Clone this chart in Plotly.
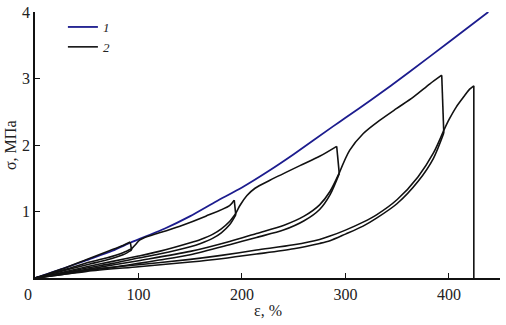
import plotly.graph_objects as go

# ---- Curve 1 (monotonic loading) ----
eps_1 = [0, 25, 50, 75, 92, 100, 125, 150, 175, 200, 225, 250, 288, 300, 325, 362, 400, 438]
sig_1 = [0, 0.13, 0.27, 0.41, 0.53, 0.58, 0.74, 0.93, 1.15, 1.36, 1.60, 1.86, 2.28, 2.41, 2.68, 3.10, 3.55, 4.00]

# ---- Curve 2 (cyclic loading), smooth segments in order; jumps between them are drops ----
load1_e = [0, 10, 25, 50, 70, 85, 92]
load1_s = [0, 0.05, 0.13, 0.28, 0.40, 0.49, 0.54]
unload1_e = [93.4, 85, 69, 53, 30, 15, 0]
unload1_s = [0.42, 0.35, 0.27, 0.21, 0.12, 0.06, 0]
reload1_e = [0, 15, 30, 53, 69, 85, 93.4]
reload1_s = [0, 0.065, 0.13, 0.24, 0.30, 0.38, 0.44]
load2_e = [93.4, 97, 101, 106, 114, 140, 165, 188, 192.5]
load2_s = [0.44, 0.50, 0.57, 0.61, 0.65, 0.78, 0.93, 1.09, 1.17]
unload2_e = [194, 188, 180, 172, 160, 150, 120, 100, 75, 50, 25, 0]
unload2_s = [0.95, 0.80, 0.68, 0.60, 0.52, 0.47, 0.36, 0.30, 0.22, 0.15, 0.07, 0]
reload2_e = [0, 25, 50, 75, 100, 120, 150, 160, 172, 180, 188, 194]
reload2_s = [0, 0.08, 0.17, 0.25, 0.33, 0.40, 0.53, 0.58, 0.66, 0.74, 0.85, 0.97]
load3_e = [194, 198, 204.8, 212.6, 227, 256, 275, 291.5]
load3_s = [0.97, 1.09, 1.24, 1.35, 1.47, 1.69, 1.83, 1.98]
unload3_e = [294, 285, 275, 260, 240, 214, 188, 150, 120, 100, 75, 50, 25, 0]
unload3_s = [1.57, 1.25, 1.03, 0.86, 0.72, 0.61, 0.50, 0.35, 0.27, 0.22, 0.16, 0.11, 0.05, 0]
reload3_e = [0, 25, 50, 100, 150, 188, 214, 240, 260, 275, 285, 294]
reload3_s = [0, 0.06, 0.13, 0.26, 0.40, 0.55, 0.67, 0.79, 0.93, 1.10, 1.30, 1.58]
load4_e = [294, 304, 317, 333, 349.5, 365.5, 381.6, 393]
load4_s = [1.58, 1.92, 2.17, 2.37, 2.55, 2.72, 2.92, 3.05]
unload4_e = [395, 385, 370, 350, 330, 317, 300, 285, 275, 250, 214, 180, 150, 100, 50, 25, 0]
unload4_s = [2.18, 1.80, 1.45, 1.12, 0.90, 0.78, 0.66, 0.56, 0.52, 0.44, 0.36, 0.29, 0.24, 0.17, 0.10, 0.05, 0]
reload4_e = [0, 25, 50, 100, 150, 180, 214, 250, 275, 285, 300, 317, 330, 350, 370, 385, 395]
reload4_s = [0, 0.06, 0.12, 0.20, 0.28, 0.34, 0.42, 0.50, 0.58, 0.63, 0.72, 0.84, 0.95, 1.18, 1.52, 1.88, 2.22]
load5_e = [395, 400, 407, 415, 420, 424]
load5_s = [2.22, 2.38, 2.57, 2.74, 2.84, 2.89]
break_e = [424]
break_s = [0]

segments_e = [load1_e, unload1_e, reload1_e, load2_e, unload2_e, reload2_e,
              load3_e, unload3_e, reload3_e, load4_e, unload4_e, reload4_e, load5_e, break_e]
segments_s = [load1_s, unload1_s, reload1_s, load2_s, unload2_s, reload2_s,
              load3_s, unload3_s, reload3_s, load4_s, unload4_s, reload4_s, load5_s, break_s]

x_ticks = [100, 200, 300, 400]
y_ticks = [1, 2, 3, 4]

FONT = "Liberation Serif"
BLACK = "#111111"
BLUE = "#1c1c8e"
TEXT = "#222222"

fig = go.Figure()
fig.add_trace(go.Scatter(x=eps_1, y=sig_1, mode="lines", name="<i>1</i>", legendgroup="1",
                         line=dict(color=BLUE, width=1.8, shape="spline", smoothing=0.6)))

first = True
prev_end = None
for se, ss in zip(segments_e, segments_s):
    if prev_end is not None and (prev_end[0] != se[0] or prev_end[1] != ss[0]):
        fig.add_trace(go.Scatter(x=[prev_end[0], se[0]], y=[prev_end[1], ss[0]], mode="lines",
                                 legendgroup="2", showlegend=False, hoverinfo="skip",
                                 line=dict(color=BLACK, width=1.6)))
    if len(se) > 1:
        fig.add_trace(go.Scatter(x=se, y=ss, mode="lines", name="<i>2</i>", legendgroup="2",
                                 showlegend=first,
                                 line=dict(color=BLACK, width=1.6, shape="spline", smoothing=0.8)))
        first = False
    prev_end = (se[-1], ss[-1])

fig.update_layout(
    width=506, height=325,
    margin=dict(l=35, r=6, t=12, b=47, autoexpand=False),
    paper_bgcolor="white", plot_bgcolor="white",
    font=dict(family=FONT, size=16, color=TEXT),
    showlegend=True,
    legend=dict(x=0.06, y=1.0, xanchor="left", yanchor="top",
                bgcolor="rgba(0,0,0,0)", font=dict(size=13, family=FONT),
                itemwidth=30, tracegroupgap=0),
    xaxis=dict(range=[0, 449.3], tickvals=x_ticks, ticktext=[str(v) for v in x_ticks],
               ticks="inside", ticklen=5, tickcolor=BLACK, showline=True, linecolor=BLACK,
               linewidth=1.5, showgrid=False, zeroline=False, ticklabelstandoff=1,
               automargin=False),
    yaxis=dict(range=[0, 4], tickvals=y_ticks, ticktext=[str(v) for v in y_ticks],
               ticks="inside", ticklen=5, tickcolor=BLACK, showline=True, linecolor=BLACK,
               linewidth=1.5, showgrid=False, zeroline=False, ticklabelstandoff=0,
               automargin=False),
)
fig.add_annotation(x=0, y=0, xref="x", yref="y", text="0", showarrow=False,
                   xanchor="right", yanchor="top", xshift=-1, yshift=-6,
                   font=dict(size=16, family=FONT, color=TEXT))
fig.add_annotation(x=0.5, y=0, xref="paper", yref="paper", text="ε, %", showarrow=False,
                   xanchor="center", yanchor="top", yshift=-22,
                   font=dict(size=16, family=FONT, color=TEXT))
fig.add_annotation(x=0, y=0.5, xref="paper", yref="paper", text="σ, МПа", showarrow=False,
                   textangle=-90, xanchor="center", yanchor="middle", xshift=-25,
                   font=dict(size=16, family=FONT, color=TEXT))

fig.write_html("out.html", config={"displayModeBar": False},
               post_script="document.body.style.margin='0';")
